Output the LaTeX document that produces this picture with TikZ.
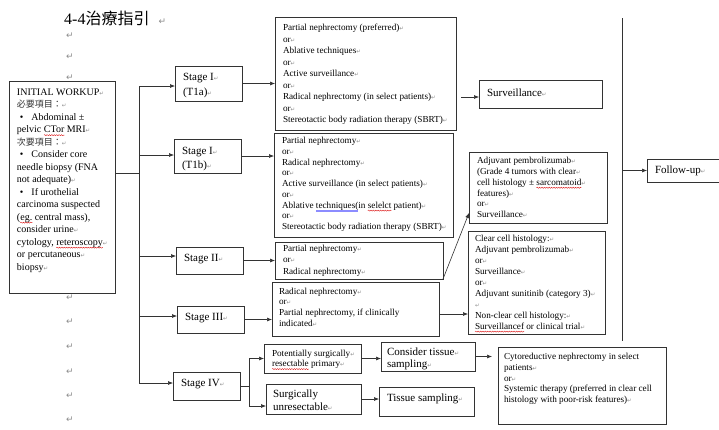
\documentclass[tikz,border=0pt]{standalone}
\usepackage{fontspec}
\setmainfont{Liberation Serif}
\newfontfamily\cjk{Noto Sans CJK TC}
\newfontfamily\symf{DejaVu Sans}
\usetikzlibrary{arrows.meta,decorations.pathmorphing}

% paragraph mark after a line
\newcommand\rt{{\symf\fontsize{5.5}{6}\selectfont\color{black!45}↵}}
% CJK run inside the workup box
\newcommand\zh[1]{{\cjk\fontsize{9}{10}\selectfont\color{black!80}#1}}
% spell-check style wavy underline and grammar double underline
\newsavebox\wbox
\newcommand\sq[1]{\sbox\wbox{#1}\tikz[baseline=0pt]{\useasboundingbox (0pt,0pt);
  \draw[overlay, red!85!black, line width=0.35pt, decorate,
    decoration={snake, amplitude=0.55pt, segment length=2.4pt}] (0pt,-2.4pt) -- (\wd\wbox,-2.4pt);}\usebox\wbox}
\newcommand\ds[1]{\sbox\wbox{#1}\rlap{\color{blue!45}\rule[-1.7pt]{\wd\wbox}{0.3pt}}%
  \rlap{\color{blue!45}\rule[-2.7pt]{\wd\wbox}{0.3pt}}\usebox\wbox}
% box body: width, height, left pad, top pad, text
\newcommand\bt[5]{\parbox[c][#2][t]{#1}{\raggedright\leftskip=#3\relax\vspace*{#4}\strut#5}}

\begin{document}
\begin{tikzpicture}[x=1pt,y=-1pt,
  bx/.style={draw=black!80, line width=0.7pt, anchor=north west, inner sep=0pt, outer sep=0pt},
  opt/.style={bx, font=\fontsize{9.2}{11}\selectfont},
  stg/.style={bx, font=\fontsize{11}{14.5}\selectfont},
  pmark/.style={text=black!45, font=\symf\fontsize{9}{10}\selectfont, inner sep=0pt},
  ln/.style={draw=black!80, line width=0.6pt},
  arr/.style={ln, -{Latex[length=5pt,width=4pt]}}]

\useasboundingbox (0,0) rectangle (719,429);
\clip (0,0) rectangle (719,429);
\fill[white] (0,0) rectangle (719,429);

% heading and empty paragraph marks
\node[anchor=base west, inner sep=0pt, font=\fontsize{16}{18}\selectfont] (title) at (64,24)
  {4-4{\cjk 治療指引}\hspace{9pt}{\symf\fontsize{9}{10}\selectfont\color{black!45}↵}};
\foreach \y [count=\i] in {36,57,78,298,322,347,372,396,420}
  \node[pmark] (pm\i) at (70,\y) {↵};

% initial workup
\node[bx, font=\fontsize{10}{12.5}\selectfont] (init) at (9,81) {\bt{106pt}{212pt}{8pt}{5.5pt}{%
INITIAL WORKUP\rt\\
\zh{必要項目：}\rt\\
\hspace*{3pt}•\hspace{8pt}Abdominal ±\\
pelvic \sq{CTor} MRI\rt\\
\zh{次要項目：}\rt\\
\hspace*{3pt}•\hspace{8pt}Consider core\\
needle biopsy (FNA\\
not adequate)\rt\\
\hspace*{3pt}•\hspace{8pt}If urothelial\\
carcinoma suspected\\
(\sq{eg.} central mass),\\
consider urine\rt\\
cytology, \sq{reteroscopy}\rt\\
or percutaneous\rt\\
biopsy\rt}};

% stages
\node[stg, font=\fontsize{11}{15}\selectfont] (s1) at (175,66) {\bt{67pt}{35pt}{8pt}{3.5pt}{Stage I\rt\\(T1a)\rt}};
\node[stg, font=\fontsize{11}{14}\selectfont] (s2) at (174,139) {\bt{67pt}{34pt}{8pt}{5.5pt}{Stage I\rt\\(T1b)\rt}};
\node[stg] (s3) at (176,247) {\bt{67pt}{27pt}{8pt}{4.3pt}{Stage II\rt}};
\node[stg] (s4) at (177,306) {\bt{67pt}{27pt}{8pt}{4.3pt}{Stage III\rt}};
\node[stg] (s5) at (173,372) {\bt{67pt}{28pt}{8pt}{4.3pt}{Stage IV\rt}};

% primary treatment options
\node[opt, font=\fontsize{9.2}{11.5}\selectfont] (A) at (275,17) {\bt{181pt}{113pt}{8pt}{5.5pt}{%
Partial nephrectomy (preferred)\rt\\ or\rt\\ Ablative techniques\rt\\ or\rt\\ Active surveillance\rt\\ or\rt\\
Radical nephrectomy (in select patients)\rt\\ or\rt\\ Stereotactic body radiation therapy (SBRT)\rt}};
\node[opt, font=\fontsize{9.2}{10.75}\selectfont] (B) at (274,133) {\bt{179pt}{104pt}{8pt}{3.2pt}{%
Partial nephrectomy\rt\\ or\rt\\ Radical nephrectomy\rt\\ or\rt\\ Active surveillance (in select patients)\rt\\ or\rt\\
Ablative \ds{techniques(}in \sq{selelct} patient)\rt\\ or\rt\\ Stereotactic body radiation therapy (SBRT)\rt}};
\node[opt, font=\fontsize{9.2}{11.5}\selectfont] (C) at (275,242) {\bt{168pt}{37pt}{8pt}{1.2pt}{%
Partial nephrectomy\rt\\ or\rt\\ Radical nephrectomy\rt}};
\node[opt, font=\fontsize{9.2}{10.7}\selectfont] (E) at (272,282) {\bt{167pt}{54pt}{7pt}{4.7pt}{%
Radical nephrectomy\rt\\ or\rt\\ Partial nephrectomy, if clinically\\ indicated\rt}};

% adjuvant options
\node[opt, font=\fontsize{9.2}{10.8}\selectfont] (D) at (469,152) {\bt{138pt}{71pt}{8pt}{4.2pt}{%
Adjuvant pembrolizumab\rt\\ (Grade 4 tumors with clear\rt\\ cell histology ± \sq{sarcomatoid}\rt\\ features)\rt\\ or\rt\\ Surveillance\rt}};
\node[opt, font=\fontsize{9.2}{11}\selectfont] (F) at (468,231) {\bt{137pt}{103pt}{7pt}{2.5pt}{%
Clear cell histology:\rt\\ Adjuvant pembrolizumab\rt\\ or\rt\\ Surveillance\rt\\ or\rt\\ Adjuvant sunitinib (category 3)\rt\\ \rt\\
Non-clear cell histology:\rt\\ \sq{Surveillancef} or clinical trial\rt}};
\node[stg, font=\fontsize{11}{15}\selectfont] (S) at (479,80) {\bt{123pt}{28pt}{8pt}{6pt}{Surveillance\rt}};
\node[stg] (H) at (647,159) {\bt{90pt}{23pt}{8pt}{4.3pt}{Follow-up\rt}};

% stage IV branches
\node[opt, font=\fontsize{9.2}{10.5}\selectfont] (P) at (264,344) {\bt{97pt}{29pt}{8pt}{4.8pt}{%
Potentially surgically\rt\\ \sq{resectable} primary\rt}};
\node[stg, font=\fontsize{11}{12}\selectfont] (Q) at (381,342) {\bt{94pt}{29pt}{6pt}{5pt}{Consider tissue\rt\\ sampling\rt}};
\node[stg, font=\fontsize{11}{13}\selectfont] (U) at (266,384) {\bt{95pt}{30pt}{7pt}{4.4pt}{Surgically\\ unresectable\rt}};
\node[stg, font=\fontsize{11}{14}\selectfont] (T) at (379,387) {\bt{95pt}{29pt}{8pt}{4.7pt}{Tissue sampling\rt}};
\node[opt, font=\fontsize{9.2}{10.8}\selectfont] (G) at (498,347) {\bt{168pt}{77pt}{6pt}{5pt}{%
Cytoreductive nephrectomy in select\\ patients\rt\\ or\rt\\ Systemic therapy (preferred in clear cell\\ histology with poor-risk features)\rt}};

% trunk from the workup to the stages
\coordinate (spT) at (139,86);
\coordinate (spM) at (139,173);
\coordinate (spB) at (139,383);
\coordinate (j2) at (139,155);
\coordinate (j3) at (139,256);
\coordinate (j4) at (139,316);
\draw[ln] (init.east |- spM) -- (spM);
\draw[ln] (spT) -- (spB);
\draw[arr] (spT) -- (spT -| s1.west);
\draw[arr] (j2) -- (j2 -| s2.west);
\draw[arr] (j3) -- (j3 -| s3.west);
\draw[arr] (j4) -- (j4 -| s4.west);
\draw[arr] (spB) -- (spB -| s5.west);

% stage to treatment
\draw[arr] (s1.east) -- (s1.east -| A.west);
\draw[arr] (s2.east) -- (s2.east -| B.west);
\draw[arr] (s3.east) -- (s3.east -| C.west);
\draw[arr] (s4.east) -- (s4.east -| E.west);

% treatment to adjuvant options
\coordinate (sIn) at ([yshift=-3pt]S.west);
\draw[arr, shorten <=5pt] (A.east |- sIn) -- (sIn);
\coordinate (dIn) at ([yshift=-25.5pt]D.west);
\draw[arr] (C.south east) -- (dIn);
\coordinate (eOut) at ([yshift=-5pt]E.east);
\draw[arr] (eOut) -- (eOut -| F.west);

% stage IV fork
\coordinate (fk) at (249,386);
\coordinate (fkT) at (249,358.5);
\coordinate (fkB) at (249,406);
\draw[ln] (s5.east) -- (fk);
\draw[ln] (fkT) -- (fkB);
\draw[arr] (fkT) -- (fkT -| P.west);
\draw[arr] (fkB) -- (fkB -| U.west);
\draw[arr] (P.east) -- (P.east -| Q.west);
\draw[arr] (U.east) -- (U.east -| T.west);
\draw[arr, shorten >=6pt] (Q.east) -- (Q.east -| G.west);

% follow-up bar
\coordinate (fuT) at (622.5,18);
\coordinate (fuB) at (622.5,341);
\draw[ln] (fuT) -- (fuB);
\draw[arr] (fuT |- H.west) -- (H.west);
\end{tikzpicture}
\end{document}
